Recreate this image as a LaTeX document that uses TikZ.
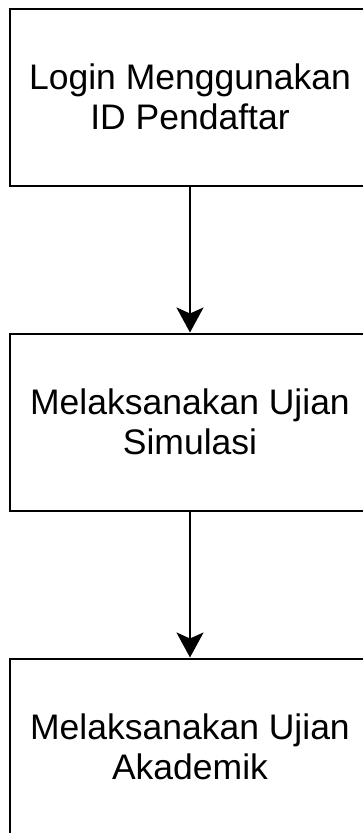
\documentclass[tikz,border=0pt]{standalone}
\usepackage{fontspec}
\setmainfont{Liberation Sans}
\usepackage{tikz}
\usetikzlibrary{positioning, arrows.meta}
\tikzset{
  stepbox/.style={draw, line width=2pt, rectangle, minimum width=360pt, minimum height=177pt,
    align=center, font=\fontsize{35.5}{40}\selectfont, inner sep=0pt},
  flow/.style={line width=2pt, -{Stealth[length=25pt, width=27pt, inset=6pt]}}
}

\begin{document}
\begin{tikzpicture}
      \useasboundingbox (0pt,0pt) rectangle (362pt,-833pt);

      \node[stepbox] (Login) at (190pt,-97pt) {Login Menggunakan\\ID Pendaftar};
      \node[stepbox] (Simulasi) at (190pt,-422pt) {Melaksanakan Ujian\\Simulasi};
      \node[stepbox] (Akademik) at (190pt,-747pt) {Melaksanakan Ujian\\Akademik};

      \draw[flow] (node cs:name=Login) -- (node cs:name=Simulasi);
      \draw[flow] (node cs:name=Simulasi) -- (node cs:name=Akademik);
    \end{tikzpicture}
\end{document}
